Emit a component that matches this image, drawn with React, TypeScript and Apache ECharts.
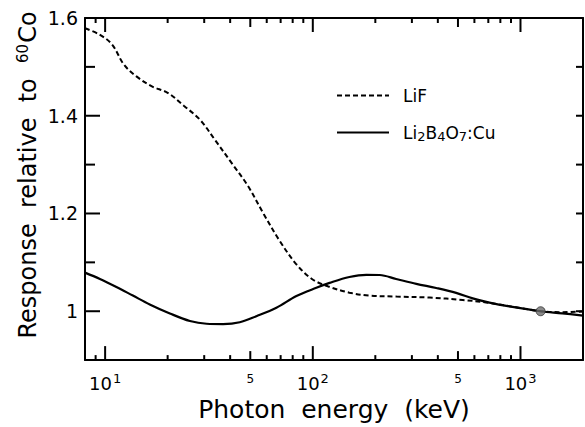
import React, { useEffect, useRef } from "react";
import * as echarts from "echarts";

const FONT = "DejaVu Sans";

// Photon energy (keV) and response relative to 60Co for each dosimeter
const energyLiF = [8, 9.4, 10.8, 12.3, 14.1, 16.8, 20, 24, 28.6, 34, 40.7, 48.6, 58, 69, 83, 99, 118, 150, 188, 253, 365, 527, 683, 952, 1250, 1590, 2000];
const responseLiF = [1.579, 1.566, 1.546, 1.505, 1.481, 1.46, 1.447, 1.42, 1.392, 1.349, 1.303, 1.257, 1.199, 1.145, 1.097, 1.066, 1.051, 1.038, 1.032, 1.03, 1.028, 1.023, 1.018, 1.008, 1.0, 0.998, 0.9995];

const energyLBO = [8, 9.44, 11.4, 13.6, 16.4, 20.5, 25.6, 30.8, 37, 44.5, 53.5, 66.8, 83.4, 104, 120.5, 150, 181, 210, 252, 315, 393, 490, 589, 709, 884, 1250, 1590, 2000];
const responseLBO = [1.079, 1.066, 1.049, 1.032, 1.014, 0.9955, 0.98, 0.9744, 0.9738, 0.9775, 0.9898, 1.0071, 1.031, 1.048, 1.058, 1.07, 1.0745, 1.0741, 1.066, 1.056, 1.0475, 1.0376, 1.0264, 1.0177, 1.0099, 1.0, 0.9957, 0.991];

// 60Co reference point
const cobaltEnergy = [1250];
const cobaltResponse = [1.0];

// Axis ticks and labels
const decadeTicks = [10, 100, 1000];
const halfDecadeTicks = [50, 500];
const minorEnergyTicks = [9, 20, 30, 40, 60, 70, 80, 90, 200, 300, 400, 600, 700, 800, 900];
const majorResponseTicks = [1, 1.2, 1.4];
const minorResponseTicks = [1.1, 1.3, 1.5];
const responseLabels = [1, 1.2, 1.4, 1.6];
const rightResponseTicks = [1.0, 1.1, 1.2, 1.3, 1.4, 1.5];

const seriesNames = ["LiF", "Li2B4O7:Cu"];

const black = "#000";
const E_MIN = 8;
const E_MAX = 2000;
const R_MIN = 0.9;
const R_MAX = 1.6;

const yTitle = {
  type: "text",
  x: 28,
  y: 175,
  rotation: Math.PI / 2,
  style: {
    text: "Response  relative  to  {s|60}Co",
    fontFamily: FONT,
    fontSize: 24,
    fill: black,
    align: "center",
    verticalAlign: "middle",
    rich: {
      s: { fontFamily: FONT, fontSize: 15, fill: black, padding: [0, 1, 10, 0] },
    },
  },
};

export default function App() {
  const ref = useRef<HTMLDivElement>(null);

  useEffect(() => {
    document.body.style.margin = "0";
    const chart = echarts.init(ref.current!, null, { renderer: "svg" });

    const frameLine = { show: true, onZero: false, lineStyle: { color: black, width: 2 } };

    const logAxisBase = {
      type: "log",
      logBase: 10,
      min: E_MIN,
      max: E_MAX,
      splitLine: { show: false },
      minorTick: { show: false },
      axisTick: { show: false },
    };

    const option: any = {
      animation: false,
      backgroundColor: "#fff",
      grid: { left: 85, right: 2, top: 18, bottom: 64 },
      legend: {
        left: 336,
        top: 87,
        padding: 0,
        orient: "vertical",
        itemWidth: 52,
        itemHeight: 14,
        itemGap: 20,
        data: seriesNames,
        itemStyle: { opacity: 0 },
        textStyle: {
          fontFamily: FONT,
          fontSize: 17,
          color: black,
          padding: [0, 0, 0, 9],
          rich: {
            s: { fontFamily: FONT, fontSize: 13, color: black, padding: [7, 0, 0, 0] },
          },
        },
        formatter: (name: string) => (name === "LiF" ? "LiF" : "Li{s|2}B{s|4}O{s|7}:Cu"),
      },
      xAxis: [
        {
          ...logAxisBase,
          position: "bottom",
          axisLine: frameLine,
          axisLabel: {
            show: true,
            customValues: decadeTicks,
            margin: 12,
            color: black,
            fontFamily: FONT,
            formatter: (v: number) => `{b|10}{s|${Math.round(Math.log10(v))}}`,
            rich: {
              b: { fontFamily: FONT, fontSize: 18, color: black },
              s: { fontFamily: FONT, fontSize: 13, color: black, padding: [0, 0, 9, 1] },
            },
          },
          name: "Photon  energy  (keV)",
          nameLocation: "middle",
          nameGap: 33,
          nameTextStyle: { fontFamily: FONT, fontSize: 25, color: black },
        },
        {
          ...logAxisBase,
          position: "bottom",
          axisLine: { show: false },
          axisLabel: {
            show: true,
            customValues: halfDecadeTicks,
            margin: 13,
            color: black,
            fontFamily: FONT,
            fontSize: 12,
            formatter: () => "5",
          },
        },
        {
          ...logAxisBase,
          position: "top",
          axisLine: frameLine,
          axisLabel: { show: false },
        },
      ],
      yAxis: [
        {
          type: "value",
          min: R_MIN,
          max: R_MAX,
          interval: 0.1,
          position: "left",
          splitLine: { show: false },
          axisLine: frameLine,
          axisTick: { show: false },
          axisLabel: {
            show: true,
            customValues: responseLabels,
            margin: 7,
            color: black,
            fontFamily: FONT,
            fontSize: 19,
          },
        },
        {
          type: "value",
          min: R_MIN,
          max: R_MAX,
          interval: 0.1,
          position: "right",
          splitLine: { show: false },
          axisLine: frameLine,
          axisTick: { show: false },
          axisLabel: { show: false },
        },
      ],
      series: [
        {
          name: seriesNames[0],
          type: "line",
          smooth: 0.35,
          symbol: "none",
          data: energyLiF.map((e, i) => [e, responseLiF[i]]),
          lineStyle: { color: black, width: 2, type: [5, 3] },
          itemStyle: { color: black },
        },
        {
          name: seriesNames[1],
          type: "line",
          smooth: 0.35,
          symbol: "none",
          data: energyLBO.map((e, i) => [e, responseLBO[i]]),
          lineStyle: { color: black, width: 2.2, type: "solid" },
          itemStyle: { color: black },
        },
        {
          name: "60Co",
          type: "scatter",
          symbol: "circle",
          symbolSize: 9,
          data: cobaltEnergy.map((e, i) => [e, cobaltResponse[i]]),
          itemStyle: { color: "#6e6e6e", borderColor: "#333", borderWidth: 1 },
          z: 5,
        },
      ],
    };

    chart.setOption(option);

    // Inward frame ticks, positioned through the chart's own axis scales
    const toPx = (e: number, v: number): number[] | null => {
      const p = chart.convertToPixel({ seriesIndex: 0 }, [e, v]) as any;
      return Array.isArray(p) && isFinite(p[0]) && isFinite(p[1]) ? p : null;
    };
    const ticks: any[] = [];
    const addLine = (x1: number, y1: number, x2: number, y2: number) =>
      ticks.push({
        type: "line",
        silent: true,
        z: 10,
        shape: { x1, y1, x2, y2 },
        style: { stroke: black, lineWidth: 2 },
      });
    const energyTick = (e: number, len: number) => {
      const b = toPx(e, R_MIN);
      const t = toPx(e, R_MAX);
      if (b) addLine(b[0], b[1], b[0], b[1] - len);
      if (t) addLine(t[0], t[1], t[0], t[1] + len);
    };
    const leftTick = (v: number, len: number) => {
      const p = toPx(E_MIN, v);
      if (p) addLine(p[0], p[1], p[0] + len, p[1]);
    };
    const rightTick = (v: number, len: number) => {
      const p = toPx(E_MAX, v);
      if (p) addLine(p[0], p[1], p[0] - len, p[1]);
    };
    decadeTicks.forEach((e) => energyTick(e, 14));
    halfDecadeTicks.forEach((e) => energyTick(e, 9));
    minorEnergyTicks.forEach((e) => energyTick(e, 5));
    majorResponseTicks.forEach((v) => leftTick(v, 15));
    minorResponseTicks.forEach((v) => leftTick(v, 10));
    rightResponseTicks.forEach((v) => rightTick(v, 7));

    chart.setOption({ graphic: [yTitle, ...ticks] });

    return () => chart.dispose();
  }, []);

  return <div ref={ref} style={{ width: 585, height: 427 }} />;
}
